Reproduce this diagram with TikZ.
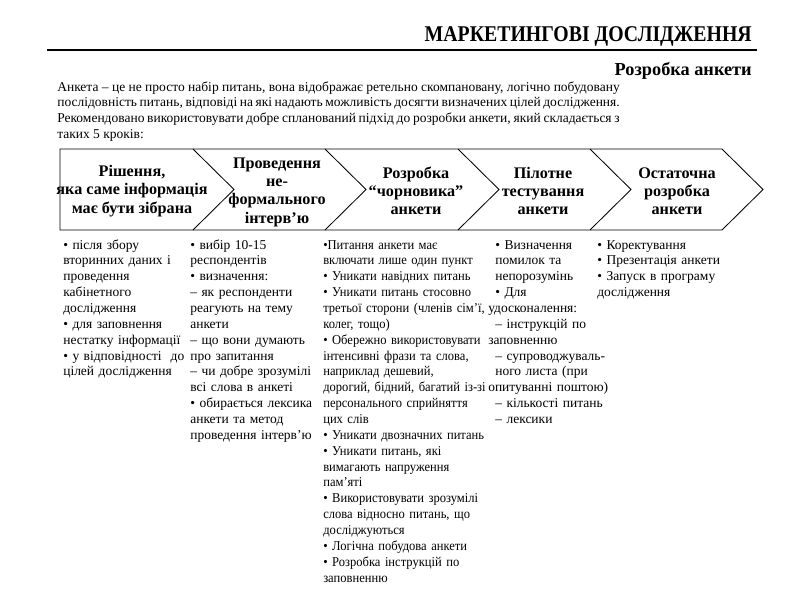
\documentclass[tikz,border=0pt]{standalone}
\usepackage{fontspec}
\setmainfont{Liberation Serif}
\newfontfamily\titlefont[FakeStretch=0.88]{Liberation Serif}
\newfontfamily\narrowfont[FakeStretch=0.93]{Liberation Serif}
\usetikzlibrary{positioning}

\begin{document}
\begin{tikzpicture}[
    x=0.025cm, y=-0.025cm,
    heading/.style={font=\titlefont\fontsize{16}{19}\selectfont\bfseries, inner sep=0pt, anchor=base east},
    stage/.style={font=\fontsize{11.5}{13}\selectfont\bfseries, align=center, inner sep=0pt},
    items/.style={font=\fontsize{9.6}{11.28}\selectfont, text width=130pt, align=left, anchor=base west, inner sep=0pt},
    chevron/.style={line width=0.6pt}
]
\useasboundingbox (0,0) rectangle (800,600);

\node[heading] (title) at (752,41.5) {МАРКЕТИНГОВІ ДОСЛІДЖЕННЯ};
\coordinate (ruleL) at (47,50);
\coordinate (ruleR) at (757,50);
\draw[line width=0.9pt] (ruleL) -- (ruleR);
\node[heading, font=\fontsize{13}{15}\selectfont\bfseries] (sub) at (752,75.5) {Розробка анкети};

\node[items, text width=400pt, align=justify] (intro) at (57,91) {Анкета – це не просто набір питань, вона відображає ретельно скомпановану, логічно побудовану\linebreak
послідовність питань, відповіді на які надають можливість досягти визначених цілей дослідження.\linebreak
Рекомендовано використовувати добре спланований підхід до розробки анкети, який складається з\linebreak
таких 5 кроків:};

\draw[chevron] (60,149) -- (722,149) -- (763,189.5) -- (722,230) -- (60,230) -- cycle;
\foreach \x in {193,325,458,590}
  \draw[chevron] (\x,149) -- (\x+41,189.5) -- (\x,230);

\node[stage] (s1) at (132,191) {Рішення,\\яка саме інформація\\має бути зібрана};
\node[stage] (s2) at (277,192) {Проведення\\не-\\формального\\інтерв’ю};
\node[stage] (s3) at (416,191) {Розробка\\“чорновика”\\анкети};
\node[stage] (s4) at (543,191) {Пілотне\\тестування\\анкети};
\node[stage] (s5) at (677,191) {Остаточна\\розробка\\анкети};

\node[items] (l1) at (63,249) {• після збору\\вторинних даних і\\проведення\\кабінетного\\дослідження\\• для заповнення\\нестатку інформації\\• у відповідності\ \ до\\цілей дослідження};
\node[items] (l2) at (190,249) {• вибір 10-15\\респондентів\\• визначення:\\– як респонденти\\реагують на тему\\анкети\\– що вони думають\\про запитання\\– чи добре зрозумілі\\всі слова в анкеті\\• обирається лексика\\анкети та метод\\проведення інтерв’ю};
\node[items, font=\narrowfont\fontsize{9.6}{11.28}\selectfont] (l3) at (323,249) {•Питання анкети має\\включати лише один пункт\\• Уникати навідних питань\\• Уникати питань стосовно\\третьої сторони (членів сім’ї,\\колег, тощо)\\• Обережно використовувати\\інтенсивні фрази та слова,\\наприклад дешевий,\\дорогий, бідний, багатий із-зі\\персонального сприйняття\\цих слів\\• Уникати двозначних питань\\• Уникати питань, які\\вимагають напруження\\пам’яті\\• Використовувати зрозумілі\\слова відносно питань, що\\досліджуються\\• Логічна побудова анкети\\• Розробка інструкцій по\\заповненню};
\node[items] (l4) at (495,249) {• Визначення\\помилок та\\непорозумінь\\• Для\\\hspace*{-5pt}удосконалення:\\– інструкцій по\\\hspace*{-5pt}заповненню\\– супроводжуваль-\\ного листа (при\\\hspace*{-5pt}опитуванні поштою)\\– кількості питань\\– лексики};
\node[items] (l5) at (597,249) {• Коректування\\• Презентація анкети\\• Запуск в програму\\дослідження};
\end{tikzpicture}
\end{document}
